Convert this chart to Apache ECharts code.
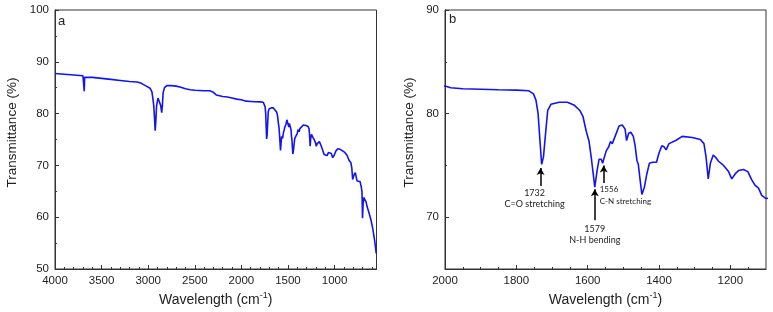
<!DOCTYPE html>
<html><head><meta charset="utf-8">
<script src="https://cdn.jsdelivr.net/npm/echarts@6/dist/echarts.min.js"></script>
<style>html,body{margin:0;padding:0;background:#fff}#c{width:773px;height:312px}</style>
</head><body><div id="c"></div>
<script>
// FTIR spectrum: wavenumber (cm-1) and transmittance (%)
const wavenumber = [
4000,3900,3800,3700,3690,3686,3682,3670,3600,3500,3400,3300,3200,3120,3080,3050,3020,3000,2980,2960,2950,2940,2930,2925,2918,2910,2895,2885,2875,2865,2855,2848,2840,2825,2800,2750,2700,2650,2600,2550,2500,2400,2340,2300,2270,2250,2200,2150,2100,2050,
2000,1984,1950,1900,1850,1800,1765,1752,1745,1739,1734,1729,1724,1718,1712,1703,1680,1657,1637,1622,1613,1604,1596,1589,1580,1574,1568,1562,1558,1554,1548,1541,1536,1531,1522,1512,1503,1495,1491,1485,1479,1472,1467,1462,1458,1453,1448,1441,1434,1427,1418,1407,1400,1392,1386,1380,1372,1353,1335,1307,1284,1274,1268,1262,1256,1248,1242,1233,1219,1205,1196,1186,1177,1163,1151,1140,1131,1121,1112,1100,
1080,1065,1050,1035,1020,1005,985,965,940,915,890,865,845,825,815,806,790,777,768,759,745,727,715,706,700,694,688,663,650,630,610,590,570,553];
const transmittance = [
87.75,87.6,87.45,87.3,87.2,84.3,87.0,87.1,87.0,86.8,86.6,86.4,86.2,86.1,85.9,85.6,85.3,85.2,84.9,84.2,83.0,81.5,78.5,76.7,78.5,81.5,83.0,83.2,82.8,81.5,80.2,81.5,84.0,85.0,85.4,85.4,85.3,85.1,84.8,84.6,84.5,84.4,84.4,84.1,83.6,83.4,83.3,83.2,83.0,82.8,
82.66,82.5,82.4,82.35,82.3,82.27,82.2,81.9,81.3,80.0,77.5,75.1,75.8,78.1,80.3,80.9,81.1,81.1,80.8,80.3,79.7,78.3,77.3,75.5,72.9,74.4,75.6,75.6,75.2,75.7,76.4,76.8,77.3,77.1,77.9,78.8,78.9,78.5,77.4,78.1,78.2,77.8,76.9,75.5,75.1,73.6,72.2,72.9,74.2,75.2,75.3,75.3,76.2,76.9,76.8,76.5,77.1,77.4,77.8,77.7,77.5,77.1,75.8,73.7,75.2,76.0,75.8,75.4,75.0,74.4,73.7,74.2,74.5,74.6,74.4,73.6,73.1,72.8,72.1,71.8,
71.9,72.5,72.8,72.3,71.5,71.9,72.8,73.2,73.1,72.8,72.5,71.9,71.0,70.5,69.5,67.3,68.2,68.6,67.8,67.0,67.2,66.9,66.0,65.0,59.8,62.5,63.8,63.0,62.0,60.8,59.5,57.8,55.5,53.0];

// Axis tick labels
const xTicksA = [4000,3500,3000,2500,2000,1500,1000];
const yTicksA = [50,60,70,80,90,100];
const xTicksB = [2000,1800,1600,1400,1200];
const yTicksB = [70,80,90];

// Band annotations (panel b)
const bandPos = [1732, 1580, 1555];
const bandLabel = ['1732\nC=O stretching', '1579\nN-H bending', '1556\nC-N stretching'];
const arrowTail = [73.0, 69.7, 73.3];
const arrowTip = [74.75, 72.7, 75.0];

const xMinorA = []; for (let v = 600; v < 4000; v += 100) if (v % 500) xMinorA.push(v);
const xMinorB = []; for (let v = 1150; v < 2000; v += 50) if (v % 200) xMinorB.push(v);
const yMinorA = [55,65,75,85,95];
const yMinorB = [75, 85];

const data = wavenumber.map((w, i) => [w, transmittance[i]]);
const FONT = 'Liberation Sans, Arial, sans-serif';
const AX = '#333';
const plain = v => String(v);

function xMajor(grid, min, max, ticks) {
  return {type:'value', gridIndex:grid, position:'bottom', min, max, inverse:true,
    name:'Wavelength (cm{sup|-1})', nameLocation:'middle', nameGap:22, nameMoveOverlap:false,
    nameTextStyle:{fontFamily:FONT, fontSize:14, color:'#222', verticalAlign:'top',
      rich:{sup:{fontFamily:FONT, fontSize:9, color:'#222', padding:[0,0,9,0]}}},
    axisLine:{show:true, lineStyle:{color:AX, width:1}},
    axisTick:{show:true, inside:true, length:4, customValues:ticks, lineStyle:{color:AX}},
    axisLabel:{customValues:ticks, formatter:plain, margin:6, fontFamily:FONT, fontSize:11.5, color:'#222'},
    splitLine:{show:false}};
}
function xMinor(grid, min, max, ticks) {
  return {type:'value', gridIndex:grid, position:'bottom', min, max, inverse:true,
    axisLine:{show:false}, axisLabel:{show:false}, splitLine:{show:false},
    axisTick:{show:true, inside:true, length:2, customValues:ticks, lineStyle:{color:AX}}};
}
function yMajor(grid, min, max, ticks, gap) {
  return {type:'value', gridIndex:grid, position:'left', min, max,
    name:'Transmittance (%)', nameLocation:'middle', nameGap:gap,
    nameTextStyle:{fontFamily:FONT, fontSize:13.5, color:'#222', padding:[0,0,0,14]},
    axisLine:{show:true, lineStyle:{color:AX, width:1}},
    axisTick:{show:true, inside:true, length:4, customValues:ticks, lineStyle:{color:AX}},
    axisLabel:{customValues:ticks, formatter:plain, margin:6, fontFamily:FONT, fontSize:11.5, color:'#222'},
    splitLine:{show:false}};
}
function yMinor(grid, min, max, ticks) {
  return {type:'value', gridIndex:grid, position:'left', min, max,
    axisLine:{show:false}, axisLabel:{show:false}, splitLine:{show:false},
    axisTick:{show:true, inside:true, length:2, customValues:ticks, lineStyle:{color:AX}}};
}

const chart = echarts.init(document.getElementById('c'), null, {renderer:'canvas'});
chart.setOption({
  animation:false,
  backgroundColor:'#fff',
  grid:[
    {left:55, top:10, right:396.5, bottom:43, containLabel:false, outerBoundsMode:'none', show:true, borderColor:AX, borderWidth:1, backgroundColor:'transparent'},
    {left:445, top:10, right:7, bottom:43, containLabel:false, outerBoundsMode:'none', show:true, borderColor:AX, borderWidth:1, backgroundColor:'transparent'}
  ],
  xAxis:[xMajor(0,550,4000,xTicksA), xMinor(0,550,4000,xMinorA), xMajor(1,1100,2000,xTicksB), xMinor(1,1100,2000,xMinorB)],
  yAxis:[yMajor(0,50,100,yTicksA,36), yMinor(0,50,100,yMinorA), yMajor(1,65,90,yTicksB,29), yMinor(1,65,90,yMinorB)],
  graphic:[
    {type:'text', left:58, top:15, style:{text:'a', fontFamily:FONT, fontSize:13, fill:'#222'}},
    {type:'text', left:449, top:13, style:{text:'b', fontFamily:FONT, fontSize:13, fill:'#222'}}
  ],
  series:[
    {type:'line', xAxisIndex:0, yAxisIndex:0, data:data, showSymbol:false, clip:true,
     lineStyle:{color:'#1414f0', width:1.6}},
    {type:'line', xAxisIndex:2, yAxisIndex:2, data:data, showSymbol:false, clip:true,
     lineStyle:{color:'#1414f0', width:1.6},
     markLine:{silent:true, symbol:['none','arrow'], symbolSize:[6,7], label:{show:false},
       lineStyle:{color:'#000', width:1.5, type:'solid'},
       data:bandPos.map((b,i)=>[{coord:[b, arrowTail[i]]},{coord:[b, arrowTip[i]]}])},
     markPoint:{silent:true, symbol:'circle', symbolSize:0,
       data:bandPos.map((b,i)=>({coord:[b, arrowTail[i]], name:bandLabel[i],
         label:{show:true, position:'bottom', distance:1, formatter:'{b}',
           fontFamily:'Lato, Open Sans, sans-serif', fontSize: i===2 ? 8 : 9, lineHeight:11.3, color:'#222',
           align: i===2 ? 'left' : 'center', offset: i===0 ? [-6,0] : (i===2 ? [-4,0] : [0,2])}}))}
    }
  ]
});
</script></body></html>
